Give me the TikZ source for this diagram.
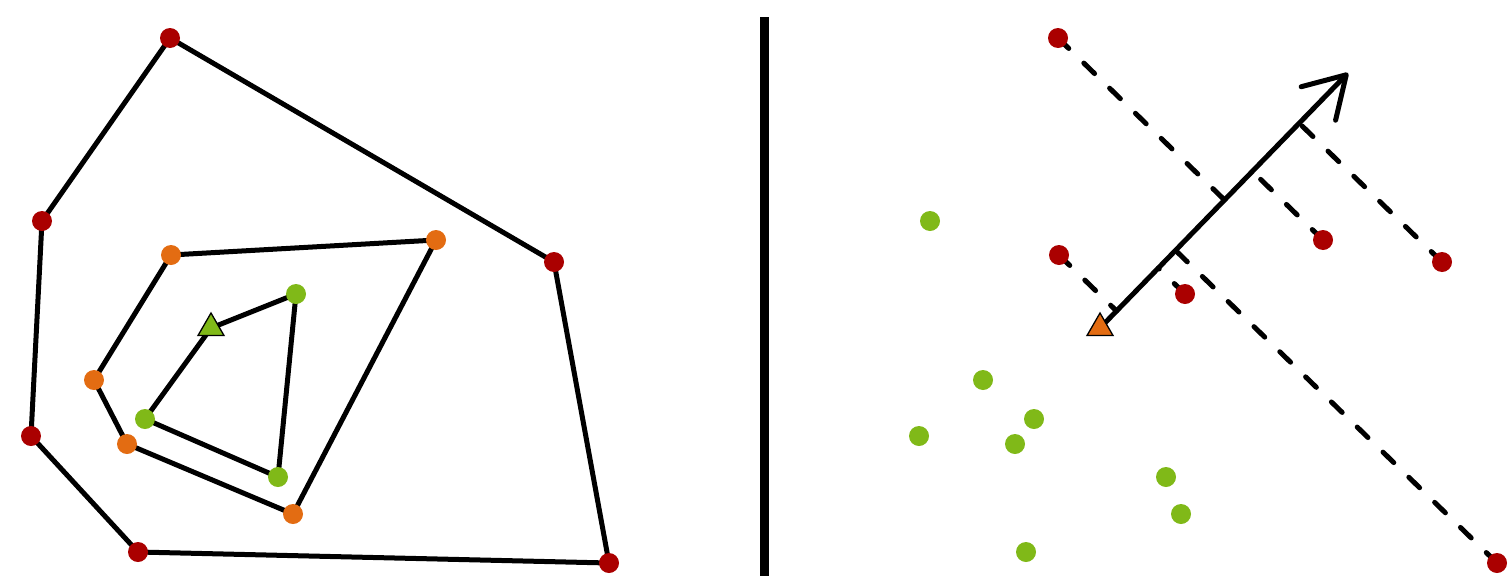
\documentclass[tikz,border=0pt]{standalone}
\usetikzlibrary{calc,shapes.geometric,arrows.meta}
\definecolor{dred}{RGB}{170,0,0}
\definecolor{dgreen}{RGB}{128,185,24}
\definecolor{dorange}{RGB}{227,108,18}
\tikzset{
  dot/.style={circle,inner sep=0pt,minimum size=20pt,fill=#1},
  tri/.style={regular polygon,regular polygon sides=3,inner sep=0pt,minimum size=30pt,fill=#1,draw=black,line width=1.3pt},
  hull/.style={line width=5pt,line join=round},
  proj/.style={line width=5pt,line cap=round,dash pattern=on 15pt off 21pt},
  axis/.style={line width=5pt,-{Straight Barb[length=40pt,width=48pt,line cap=round,line join=round]}},
}
\begin{document}
\begin{tikzpicture}[x=1pt,y=-1pt]
\useasboundingbox (0,0) rectangle (1512,576);
% divider
\coordinate (vt) at (764,17);
\coordinate (vb) at (764,576);
\draw[line width=9pt] (vt) -- (vb);
% ---- left panel ----
\coordinate (r1) at (170,38);
\coordinate (r2) at (42,221);
\coordinate (r3) at (31,436);
\coordinate (r4) at (138,552);
\coordinate (r5) at (609,563);
\coordinate (r6) at (554,262);
\coordinate (o1) at (171,255);
\coordinate (o2) at (436,240);
\coordinate (o3) at (293,514);
\coordinate (o4) at (127,444);
\coordinate (o5) at (94,380);
\coordinate (g1) at (296,294);
\coordinate (g2) at (211,328);
\coordinate (g3) at (145,419);
\coordinate (g4) at (278,477);
\draw[hull] (r1) -- (r2) -- (r3) -- (r4) -- (r5) -- (r6) -- cycle;
\draw[hull] (o1) -- (o2) -- (o3) -- (o4) -- (o5) -- cycle;
\draw[hull] (g1) -- (g2) -- (g3) -- (g4) -- cycle;
\foreach \p in {r1,r2,r3,r4,r5,r6} \node[dot=dred] (d\p) at (\p) {};
\foreach \p in {o1,o2,o3,o4,o5} \node[dot=dorange] (d\p) at (\p) {};
\foreach \p in {g1,g3,g4} \node[dot=dgreen] (d\p) at (\p) {};
\node[tri=dgreen] (dg2) at (g2) {};
% ---- right panel ----
\coordinate (t) at (1100,328);
\coordinate (tip) at (1348,73);
\coordinate (s1) at (1058,38);
\coordinate (s2) at (1323,240);
\coordinate (s3) at (1442,262);
\coordinate (s4) at (1059,255);
\coordinate (s5) at (1185,294);
\coordinate (s6) at (1497,563);
\foreach \p in {s1,s2,s3,s4,s5,s6} {
  \coordinate (f\p) at ($(t)!(\p)!(tip)$);
  \draw[proj] (\p) -- (f\p);
}
\draw[axis] (t) -- (tip);
\foreach \p in {s1,s2,s3,s4,s5,s6} \node[dot=dred] (d\p) at (\p) {};
\foreach \n/\x/\y in {q1/930/221,q2/983/380,q3/919/436,q4/1034/419,q5/1015/444,q6/1166/477,q7/1181/514,q8/1026/552}
  \node[dot=dgreen] (\n) at (\x,\y) {};
\node[tri=dorange] (dt) at (t) {};
\end{tikzpicture}
\end{document}
